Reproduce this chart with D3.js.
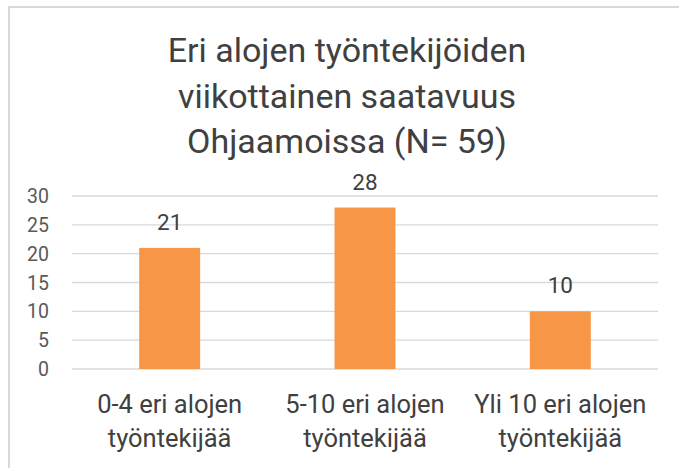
<!DOCTYPE html>
<html>
<head>
<meta charset="utf-8">
<script src="https://cdn.jsdelivr.net/npm/d3@7"></script>
<style>
  body { margin: 0; background: #fff; }
  .narrow { font-family: "Liberation Sans Narrow", "Arial Narrow", "Roboto", sans-serif; }
</style>
</head>
<body>
<div id="chart"></div>
<script>
// data
var categories = [
    ["0-4 eri alojen", "työntekijää"],
    ["5-10 eri alojen", "työntekijää"],
    ["Yli 10 eri alojen", "työntekijää"]
];
var values = [21, 28, 10];
var yTicks = [0, 5, 10, 15, 20, 25, 30];
var titleLines = ["Eri alojen työntekijöiden", "viikottainen saatavuus", "Ohjaamoissa (N= 59)"];

var width = 679;
var height = 468;

var svg = d3.select("#chart").append("svg")
    .attr("width", width)
    .attr("height", height);

//chart border (only top and left are inside the picture)
svg.append("rect")
    .attr("x", 9).attr("y", 7)
    .attr("width", 800).attr("height", 600)
    .attr("fill", "none")
    .attr("stroke", "#d9d9d9")
    .attr("stroke-width", 2);

var x = d3.scaleBand()
    .domain(d3.range(categories.length))
    .range([72, 658])
    .padding(0);

var y = d3.scaleLinear()
    .domain([0, 30])
    .range([369, 196]);

var barWidth = x.bandwidth() * 0.312;

//gridlines
svg.selectAll(".grid")
    .data(yTicks)
    .enter().append("line")
    .attr("class", "grid")
    .attr("x1", 72).attr("x2", 658)
    .attr("y1", d => y(d)).attr("y2", d => y(d))
    .attr("stroke", "#d9d9d9")
    .attr("stroke-width", 1.4);

//y labels
svg.selectAll(".ylab")
    .data(yTicks)
    .enter().append("text")
    .attr("class", "ylab")
    .attr("x", 49)
    .attr("y", d => y(d))
    .attr("dy", "0.36em")
    .attr("text-anchor", "end")
    .attr("font-family", "Roboto, sans-serif")
    .attr("font-size", 19.5)
    .attr("fill", "#595959")
    .text(d => d);

//bars
svg.selectAll(".bar")
    .data(values)
    .enter().append("rect")
    .attr("class", "bar")
    .attr("x", (d, i) => x(i) + x.bandwidth() / 2 - barWidth / 2)
    .attr("y", d => y(d))
    .attr("width", barWidth)
    .attr("height", d => y(0) - y(d))
    .attr("fill", "#F79646");

//value labels
svg.selectAll(".val")
    .data(values)
    .enter().append("text")
    .attr("class", "val")
    .attr("x", (d, i) => x(i) + x.bandwidth() / 2)
    .attr("y", d => y(d) - 18)
    .attr("text-anchor", "middle")
    .attr("font-family", "Roboto, sans-serif")
    .attr("font-size", 22.5)
    .attr("fill", "#404040")
    .text(d => d);

//category labels
var cat = svg.selectAll(".cat")
    .data(categories)
    .enter().append("text")
    .attr("class", "cat narrow")
    .attr("text-anchor", "middle")
    .attr("font-size", 25.5)
    .attr("fill", "#404040");

cat.selectAll("tspan")
    .data((d, i) => d.map(t => ({ t: t, i: i })))
    .enter().append("tspan")
    .attr("x", d => x(d.i) + x.bandwidth() / 2)
    .attr("y", (d, j) => 413 + j * 34)
    .text(d => d.t);

//title
svg.append("text")
    .attr("class", "narrow")
    .attr("text-anchor", "middle")
    .attr("font-size", 34)
    .attr("fill", "#404040")
    .selectAll("tspan")
    .data(titleLines)
    .enter().append("tspan")
    .attr("x", 347)
    .attr("y", (d, i) => 62 + i * 45.5)
    .text(d => d);
</script>
</body>
</html>
